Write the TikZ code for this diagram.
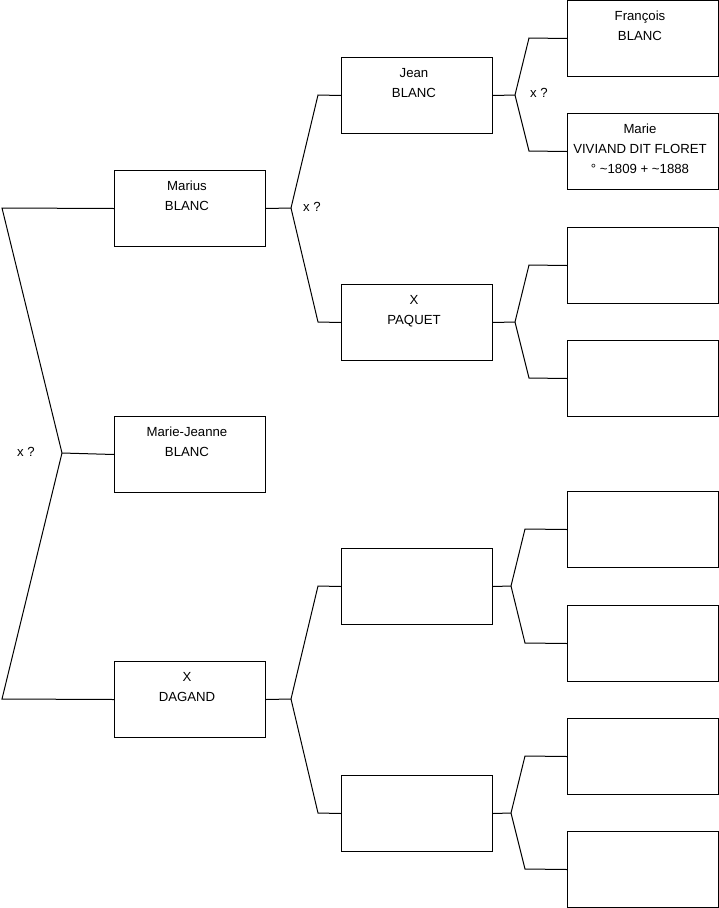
\documentclass[tikz,border=0pt]{standalone}
\usepackage{fontspec}
\setmainfont{Liberation Sans}
\begin{document}
\begin{tikzpicture}[x=1pt,y=-1pt,
  box/.style={draw=black, line width=1pt, rectangle, anchor=north west, minimum width=151pt, minimum height=76pt, inner sep=0pt},
  txt/.style={anchor=north, align=center, inner sep=0pt, font=\fontsize{13.2}{20}\selectfont},
  lbl/.style={inner sep=0pt, font=\fontsize{13.2}{15}\selectfont},
  link/.style={draw=black, line width=1pt}]
\useasboundingbox (0,0) rectangle (719,908);
% generation 1
\node[box] (marius) at (114,170) {};
\node[box] (mj) at (114,416) {};
\node[box] (dagand) at (114,661) {};
% generation 2
\node[box] (jean) at (341,57) {};
\node[box] (paquet) at (341,284) {};
\node[box] (e1) at (341,548) {};
\node[box] (e2) at (341,775) {};
% generation 3
\node[box] (francois) at (567,0) {};
\node[box] (marie) at (567,113) {};
\node[box] (g3) at (567,227) {};
\node[box] (g4) at (567,340) {};
\node[box] (g5) at (567,491) {};
\node[box] (g6) at (567,605) {};
\node[box] (g7) at (567,718) {};
\node[box] (g8) at (567,831) {};
% texts
\node[txt] at ([xshift=-3pt,yshift=-11pt]marius.north) {Marius\\BLANC};
\node[txt] at ([xshift=-3pt,yshift=-11pt]mj.north) {Marie-Jeanne\\BLANC};
\node[txt] at ([xshift=-3pt,yshift=-11pt]dagand.north) {X\\DAGAND};
\node[txt] at ([xshift=-3pt,yshift=-11pt]jean.north) {Jean\\BLANC};
\node[txt] at ([xshift=-3pt,yshift=-11pt]paquet.north) {X\\PAQUET};
\node[txt] at ([xshift=-3pt,yshift=-11pt]francois.north) {François\\BLANC};
\node[txt] at ([xshift=-3pt,yshift=-11pt]marie.north) {Marie\\VIVIAND DIT FLORET\\° \textasciitilde1809 + \textasciitilde1888};
% junctions
\coordinate (j0) at (62,453);
\coordinate (a1) at (2,208);
\coordinate (a2) at (2,699);
\coordinate (j1) at (291,208);
\coordinate (b1) at (318,95);
\coordinate (b2) at (318,322);
\coordinate (j2) at (291,699);
\coordinate (b3) at (318,586);
\coordinate (b4) at (318,813);
\coordinate (j3) at (515,95);
\coordinate (c1) at (529,38);
\coordinate (c2) at (529,151);
\coordinate (j4) at (515,322);
\coordinate (c3) at (529,265);
\coordinate (c4) at (529,378);
\coordinate (j5) at (511,586);
\coordinate (c5) at (525,529);
\coordinate (c6) at (525,643);
\coordinate (j6) at (511,813);
\coordinate (c7) at (525,756);
\coordinate (c8) at (525,869);
% connectors
\draw[link] (mj.west) -- (j0);
\draw[link] (j0) -- (a1) -- (marius.west);
\draw[link] (j0) -- (a2) -- (dagand.west);
\draw[link] (marius.east) -- (j1);
\draw[link] (j1) -- (b1) -- (jean.west);
\draw[link] (j1) -- (b2) -- (paquet.west);
\draw[link] (dagand.east) -- (j2);
\draw[link] (j2) -- (b3) -- (e1.west);
\draw[link] (j2) -- (b4) -- (e2.west);
\draw[link] (jean.east) -- (j3);
\draw[link] (j3) -- (c1) -- (francois.west);
\draw[link] (j3) -- (c2) -- (marie.west);
\draw[link] (paquet.east) -- (j4);
\draw[link] (j4) -- (c3) -- (g3.west);
\draw[link] (j4) -- (c4) -- (g4.west);
\draw[link] (e1.east) -- (j5);
\draw[link] (j5) -- (c5) -- (g5.west);
\draw[link] (j5) -- (c6) -- (g6.west);
\draw[link] (e2.east) -- (j6);
\draw[link] (j6) -- (c7) -- (g7.west);
\draw[link] (j6) -- (c8) -- (g8.west);
% labels
\node[lbl] (x0) at (26,452) {x ?};
\node[lbl] (x1) at (312,207) {x ?};
\node[lbl] (x2) at (539,93) {x ?};
\end{tikzpicture}
\end{document}
